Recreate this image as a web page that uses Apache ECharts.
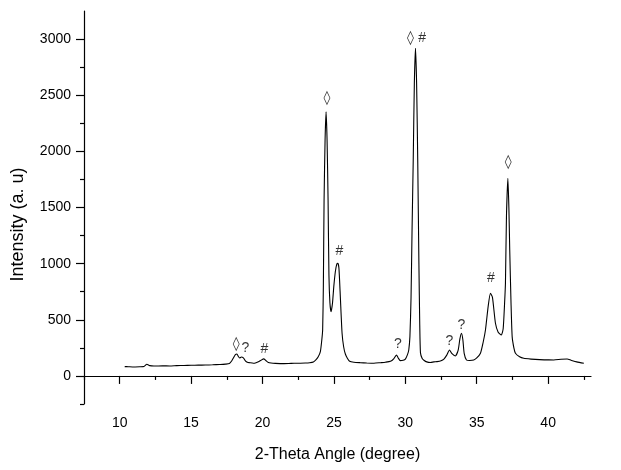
<!DOCTYPE html>
<head>
    <meta charset="utf-8">
    <title>XRD pattern</title>
    <style>
        html, body {
            width: 100%;
            height: 100%;
            margin: 0;
            background: #fff;
        }
        #main {
            width: 621px;
            height: 470px;
        }
    </style>
</head>
<body>
<div id="main"></div>
<script src="https://cdn.jsdelivr.net/npm/echarts@6/dist/echarts.min.js"></script>
<script type="text/javascript">
  // diffraction pattern
  var twoTheta = [
    10.35, 10.6, 10.9, 11.4, 11.7, 11.9, 12.1, 12.4, 13.0, 13.5, 14.0, 14.5, 15.0, 15.5, 16.0, 16.5, 17.0, 17.4,
    17.68, 17.85, 17.96, 18.1, 18.21, 18.3, 18.4, 18.52, 18.66, 18.8, 18.94, 19.1, 19.36, 19.55, 19.71, 19.9,
    20.08, 20.25, 20.41, 20.6, 20.9, 21.5, 22.0, 22.44, 23.0, 23.3, 23.56, 23.75, 23.9, 24.05, 24.15, 24.21,
    24.26, 24.31, 24.38, 24.45, 24.52, 24.59, 24.65, 24.72, 24.8, 24.9, 24.99, 25.1, 25.2, 25.27, 25.35, 25.45,
    25.57, 25.68, 25.8, 25.95, 26.1, 26.4, 26.86, 27.3, 27.8, 28.26, 28.6, 28.96, 29.2, 29.38, 29.5, 29.65,
    29.85, 30.0, 30.15, 30.24, 30.32, 30.4, 30.47, 30.55, 30.63, 30.71, 30.79, 30.87, 30.95, 31.01, 31.06,
    31.18, 31.3, 31.5, 31.76, 32.0, 32.22, 32.5, 32.7, 32.9, 33.09, 33.25, 33.5, 33.7, 33.82, 33.93, 34.03,
    34.12, 34.28, 34.5, 34.79, 35.0, 35.26, 35.45, 35.61, 35.8, 35.96, 36.1, 36.31, 36.5, 36.72, 36.85, 36.95,
    37.01, 37.08, 37.18, 37.25, 37.31, 37.4, 37.48, 37.6, 37.71, 38.0, 38.29, 38.8, 39.4, 40.0, 40.39, 40.9,
    41.33, 41.6, 42.0, 42.5
  ];
  var intensity = [
    83, 82, 80, 82, 84, 104, 92, 88, 90, 89, 92, 93, 95, 96, 97, 99, 102, 105,
    110, 135, 160, 190, 195, 175, 160, 168, 160, 135, 122, 118, 113, 118, 126, 140,
    152, 135, 120, 115, 112, 110, 112, 113, 115, 118, 125, 145, 170, 216, 320, 409,
    800, 1567, 2100, 2352, 2100, 1567, 900, 650, 572, 650, 795, 930, 995, 1003, 960, 700,
    380, 260, 195, 155, 130, 122, 118, 115, 113, 118, 122, 130, 155, 187, 160, 136,
    140, 150, 190, 231, 350, 700, 1300, 1900, 2600, 2917, 2600, 1900, 1000, 450, 205,
    155, 140, 125, 120, 125, 127, 135, 150, 185, 231, 200, 178, 230, 330, 380, 320,
    200, 142, 138, 142, 160, 202, 300, 409, 620, 736, 700, 469, 390, 365, 420, 650,
    828, 1418, 1760, 1500, 1122, 650, 350, 250, 202, 170, 157, 150, 145, 143, 142, 148,
    151, 140, 125, 113
  ];

  // peak markers written above the pattern
  var markX = [18.15, 18.8, 20.13, 24.52, 25.39, 29.47, 30.35, 31.17, 33.09, 33.93, 35.99, 37.2];
  var markY = [285, 246, 237, 2472, 1107, 285, 3006, 3006, 307, 454, 875, 1899];
  var markText = ['\u25CA', '?', '#', '\u25CA', '#', '?', '\u25CA', '#', '?', '?', '#', '\u25CA'];

  var majorX = [10, 15, 20, 25, 30, 35, 40];
  var minorX = [7.5, 12.5, 17.5, 22.5, 27.5, 32.5, 37.5, 42.5];
  var majorY = [0, 500, 1000, 1500, 2000, 2500, 3000];
  var minorY = [-250, 250, 750, 1250, 1750, 2250, 2750];

  var pattern = twoTheta.map(function (t, i) { return [t, intensity[i]]; });
  var marks = markX.map(function (t, i) { return [t, markY[i], markText[i]]; });

  var font = 'Liberation Sans, Arial, Helvetica, sans-serif';
  var myChart = echarts.init(document.getElementById('main'));

  var option = {
    animation: false,
    backgroundColor: '#fff',
    grid: {left: 84, right: 30, top: 11, bottom: 66},
    xAxis: [
      {
        type: 'value',
        min: 7.5,
        max: 43,
        name: '2-Theta Angle (degree)',
        nameLocation: 'middle',
        nameGap: 43,
        nameTextStyle: {fontFamily: font, fontSize: 16, color: '#000'},
        axisLine: {lineStyle: {color: '#000', width: 1.2}},
        axisTick: {customValues: majorX, length: 8, lineStyle: {color: '#000', width: 1.2}},
        axisLabel: {customValues: majorX, margin: 12, fontFamily: font, fontSize: 14, color: '#000'},
        splitLine: {show: false}
      },
      {
        type: 'value',
        min: 7.5,
        max: 43,
        position: 'bottom',
        axisLine: {show: false},
        axisTick: {customValues: minorX, length: 4, lineStyle: {color: '#000', width: 1.2}},
        axisLabel: {show: false},
        splitLine: {show: false}
      }
    ],
    yAxis: [
      {
        type: 'value',
        min: -250,
        max: 3250,
        name: 'Intensity (a. u)',
        nameLocation: 'middle',
        nameGap: 57,
        nameTextStyle: {fontFamily: font, fontSize: 18, color: '#000', padding: [0, 34, 0, 0]},
        axisLine: {show: true, lineStyle: {color: '#000', width: 1.2}},
        axisTick: {show: true, customValues: majorY, length: 8, lineStyle: {color: '#000', width: 1.2}},
        axisLabel: {
          customValues: majorY, margin: 13, fontFamily: font, fontSize: 14, color: '#000',
          formatter: function (v) { return String(v); }
        },
        splitLine: {show: false}
      },
      {
        type: 'value',
        min: -250,
        max: 3250,
        position: 'left',
        axisLine: {show: false},
        axisTick: {show: true, customValues: minorY, length: 4, lineStyle: {color: '#000', width: 1.2}},
        axisLabel: {show: false},
        splitLine: {show: false}
      }
    ],
    series: [
      {
        type: 'line',
        data: pattern,
        showSymbol: false,
        smooth: 0.2,
        lineStyle: {color: '#000', width: 1.1},
        silent: true
      },
      {
        type: 'scatter',
        data: marks,
        symbolSize: 0,
        silent: true,
        label: {
          show: true,
          position: 'inside',
          fontFamily: font,
          fontSize: 14,
          color: '#000',
          formatter: function (p) {
            return p.value[2] === '\u25CA' ? '{d|\u25CA}' : p.value[2];
          },
          rich: {
            d: {fontFamily: 'DejaVu Sans, Liberation Sans, sans-serif', fontSize: 14, fontWeight: 'bold', color: '#000'}
          }
        }
      }
    ]
  };
  myChart.setOption(option);
</script>
</body>
